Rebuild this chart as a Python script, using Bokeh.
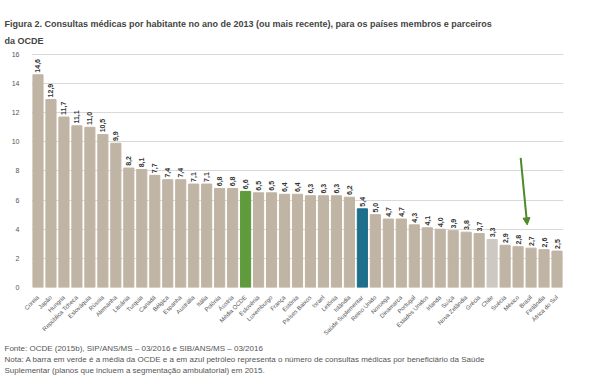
from math import pi
from bokeh.plotting import figure
from bokeh.models import ColumnDataSource, FactorRange, Range1d, Title, Arrow, NormalHead, FixedTicker
from bokeh.core.properties import value
from bokeh.embed import file_html
from bokeh.resources import INLINE

countries = [
    "Coreia", "Japão", "Hungria", "República Tcheca", "Eslováquia", "Rússia",
    "Alemanha", "Lituânia", "Turquia", "Canadá", "Bélgica", "Espanha",
    "Austrália", "Itália", "Polônia", "Áustria", "Média OCDE", "Eslovênia",
    "Luxemburgo", "França", "Estônia", "Países Baixos", "Israel", "Letônia",
    "Islândia", "Saúde Suplementar", "Reino Unido", "Noruega",
    "Dinamarca", "Portugal", "Estados Unidos", "Irlanda", "Suíça",
    "Nova Zelândia", "Grécia", "Chile", "Suécia", "México", "Brasil",
    "Finlândia", "África do Sul",
]
consultas = [
    14.6, 12.9, 11.7, 11.1, 11.0, 10.5,
    9.9, 8.2, 8.1, 7.7, 7.4, 7.4,
    7.1, 7.1, 6.8, 6.8, 6.6, 6.5,
    6.5, 6.4, 6.4, 6.3, 6.3, 6.3,
    6.2, 5.4, 5.0, 4.7,
    4.7, 4.3, 4.1, 4.0, 3.9,
    3.8, 3.7, 3.3, 2.9, 2.8, 2.7,
    2.6, 2.5,
]
y_ticks = [0, 2, 4, 6, 8, 10, 12, 14, 16]

title_lines = [
    "Figura 2. Consultas médicas por habitante no ano de 2013 (ou mais recente), para os países membros e parceiros",
    "da OCDE",
]
footer_lines = [
    "Fonte: OCDE (2015b), SIP/ANS/MS – 03/2016 e SIB/ANS/MS – 03/2016",
    "Nota: A barra em verde é a média da OCDE e a em azul petróleo representa o número de consultas médicas por beneficiário da Saúde",
    "Suplementar (planos que incluem a segmentação ambulatorial) em 2015.",
]

oecd_name = "Média OCDE"
supl_name = "Saúde Suplementar"
arrow_name = "Brasil"

def bar_color(name):
    if name == oecd_name:
        return "#5f9a3c"
    if name == supl_name:
        return "#1d6f8c"
    if name == "Chile":
        return "#cdc8c2"
    return "#c0b4a4"

source = ColumnDataSource(dict(
    x=countries,
    top=consultas,
    color=[bar_color(c) for c in countries],
    lab=[f"{v:.1f}".replace(".", ",") for v in consultas],
    ly=[v + 0.15 for v in consultas],
))

p = figure(width=590, height=375, x_range=FactorRange(factors=countries),
           y_range=Range1d(0, 16.27), output_backend="svg", toolbar_location=None,
           min_border_left=31, min_border_right=27, min_border_top=50, min_border_bottom=88)
p.background_fill_color = "white"
p.border_fill_color = "white"
p.outline_line_color = None

p.vbar(x="x", top="top", width=0.78, color="color", source=source)
p.text(x="x", y="ly", text="lab", source=source, angle=pi / 2,
       text_align="left", text_baseline="middle", text_font=value("Liberation Sans"),
       text_font_size="7px", text_font_style="bold", text_color="#333333")

p.xgrid.grid_line_color = None
p.ygrid.grid_line_color = "#d9d9d9"
p.yaxis.ticker = FixedTicker(ticks=y_ticks)
for ax in (p.xaxis, p.yaxis):
    ax.axis_line_color = None
    ax.major_tick_line_color = None
    ax.minor_tick_line_color = None
    ax.major_label_text_font = "Liberation Sans"
    ax.major_label_text_color = "#555555"
p.yaxis.major_label_text_font_size = "7px"
p.yaxis.major_label_standoff = 6
p.xaxis.major_label_text_font_size = "6px"
p.xaxis.major_label_orientation = pi / 4
p.xaxis.major_label_standoff = 3

ai = countries.index(arrow_name) + 0.5
av = consultas[countries.index(arrow_name)]
p.add_layout(Arrow(end=NormalHead(size=7, fill_color="#4e8a2a", line_color="#4e8a2a"),
                   x_start=ai - 0.8, y_start=av + 6.2, x_end=ai - 0.3, y_end=av + 1.6,
                   line_color="#4e8a2a", line_width=2))

p.title = None
# title lines: added from the plot outward
p.add_layout(Title(text=title_lines[1], align="left", offset=-27, standoff=10,
                   text_font="Liberation Sans", text_font_size="9px", text_font_style="bold",
                   text_color="#444444"), "above")
p.add_layout(Title(text=title_lines[0], align="left", offset=-27, standoff=0,
                   text_font="Liberation Sans", text_font_size="9px", text_font_style="bold",
                   text_color="#444444"), "above")
for i, t in enumerate(footer_lines):
    p.add_layout(Title(text=t, align="left", offset=-27, standoff=0,
                       text_font="Liberation Sans", text_font_size="8px", text_font_style="normal",
                       text_color="#555555"), "below")

open("out.html", "w").write(file_html(p, INLINE))
